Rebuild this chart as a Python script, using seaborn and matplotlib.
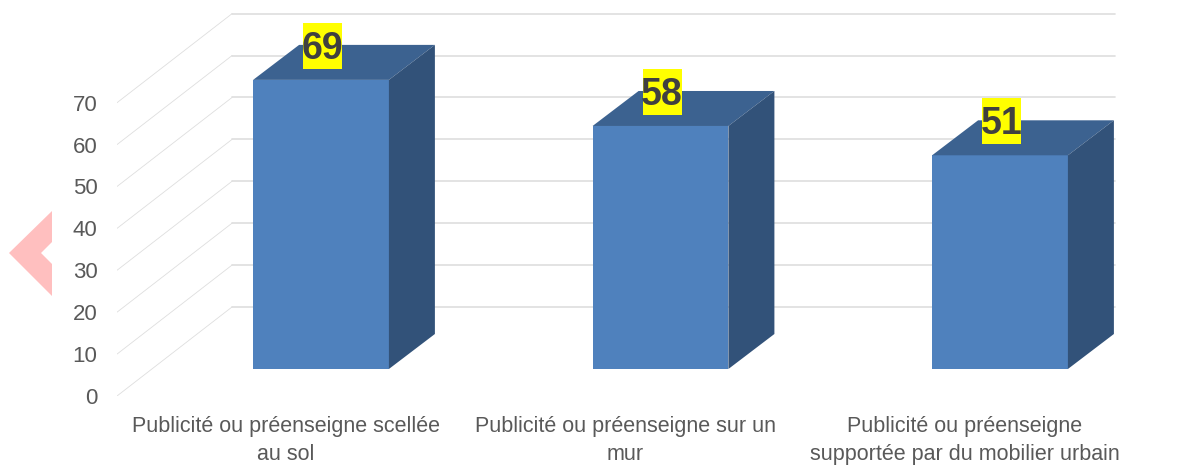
import matplotlib
matplotlib.use('Agg')
import matplotlib.pyplot as plt
import seaborn as sns
import pandas as pd
from matplotlib.patches import Polygon, Rectangle

# chart data
categories = ['Publicité ou préenseigne scellée\nau sol',
              'Publicité ou préenseigne sur un\nmur',
              'Publicité ou préenseigne\nsupportée par du mobilier urbain']
values = [69, 58, 51]
y_ticks = [0, 10, 20, 30, 40, 50, 60, 70]

# colours
front_col = '#4F81BD'
top_col = '#3C6290'
side_col = '#325279'
grid_col = '#DEDEDE'
text_col = '#595959'

# pixel geometry of the fake 3d view
W, H = 1182, 465
PX_X = 339.5     # pixels per category
PX_Y = 4.19      # pixels per value unit
DX = 46 / PX_X   # bar depth
DY = 35 / PX_Y
WALL_DY = 62 / PX_Y   # back wall shift compared to the bar base
FLOOR_DY = -27 / PX_Y # left end of the side wall lines
WALL_X0 = (232 - 321) / PX_X
WALL_X1 = (1115 - 321) / PX_X

sns.set_theme(style='white')
plt.rcParams['font.family'] = ['Liberation Sans', 'DejaVu Sans']

fig = plt.figure(figsize=(W / 100, H / 100), dpi=100)
ax = fig.add_axes([117 / W, (H - 396) / H, (W - 117) / W, 396 / H])

df = pd.DataFrame({'categorie': categories, 'valeur': values})
sns.barplot(data=df, x='categorie', y='valeur', color=front_col, saturation=1,
            width=0.4, linewidth=0, ax=ax, zorder=3)

ax.set_xlim((117 - 321) / PX_X, (W - 321) / PX_X)
ax.set_ylim(FLOOR_DY, 369 / PX_Y)

# back wall and side wall lines
x_left = ax.get_xlim()[0]
for v in y_ticks:
    ax.plot([WALL_X0, WALL_X1], [v + WALL_DY, v + WALL_DY], color=grid_col, lw=1.2, zorder=1)
    ax.plot([x_left, WALL_X0], [v + FLOOR_DY, v + WALL_DY], color=grid_col, lw=0.6, zorder=1)

# top and side face of each bar, then the label
for i, v in enumerate(values):
    x0, x1 = i - 0.2, i + 0.2
    ax.add_patch(Polygon([(x0, v), (x1, v), (x1 + DX, v + DY), (x0 + DX, v + DY)],
                         facecolor=top_col, edgecolor='none', zorder=3))
    ax.add_patch(Polygon([(x1, 0), (x1 + DX, DY), (x1 + DX, v + DY), (x1, v)],
                         facecolor=side_col, edgecolor='none', zorder=3))
    cx = i + 1.5 / PX_X
    ax.add_patch(Rectangle((cx - 19.5 / PX_X, v + 11 / PX_Y), 39 / PX_X, 46 / PX_Y,
                           facecolor='#FFFF00', edgecolor='none', zorder=4))
    ax.text(cx, v + 35 / PX_Y, str(v), ha='center', va='center_baseline', fontsize=27,
            fontweight='bold', color='#404040', zorder=5)

# axis labels sit on the front edge of the side wall
ax.set_yticks([v + FLOOR_DY for v in y_ticks])
ax.set_yticklabels([str(v) for v in y_ticks], fontsize=16, color=text_col)
ax.set_xticks([i - 35 / PX_X for i in range(len(categories))])
ax.set_xticklabels(categories, fontsize=15.5, color=text_col, linespacing=1.45)
ax.tick_params(axis='y', length=0, pad=14)
ax.tick_params(axis='x', length=0, pad=14.5)
ax.set_xlabel('')
ax.set_ylabel('')
sns.despine(ax=ax, left=True, bottom=True)

# pink chevron on the left edge
chevron = [(52, 211), (9, 253), (52, 296), (52, 264), (41, 253), (52, 242)]
fig.add_artist(Polygon([(x / W, 1 - y / H) for x, y in chevron], closed=True,
                       facecolor='#FFBFBF', edgecolor='none', transform=fig.transFigure))

fig.savefig('out.png', dpi=100)
